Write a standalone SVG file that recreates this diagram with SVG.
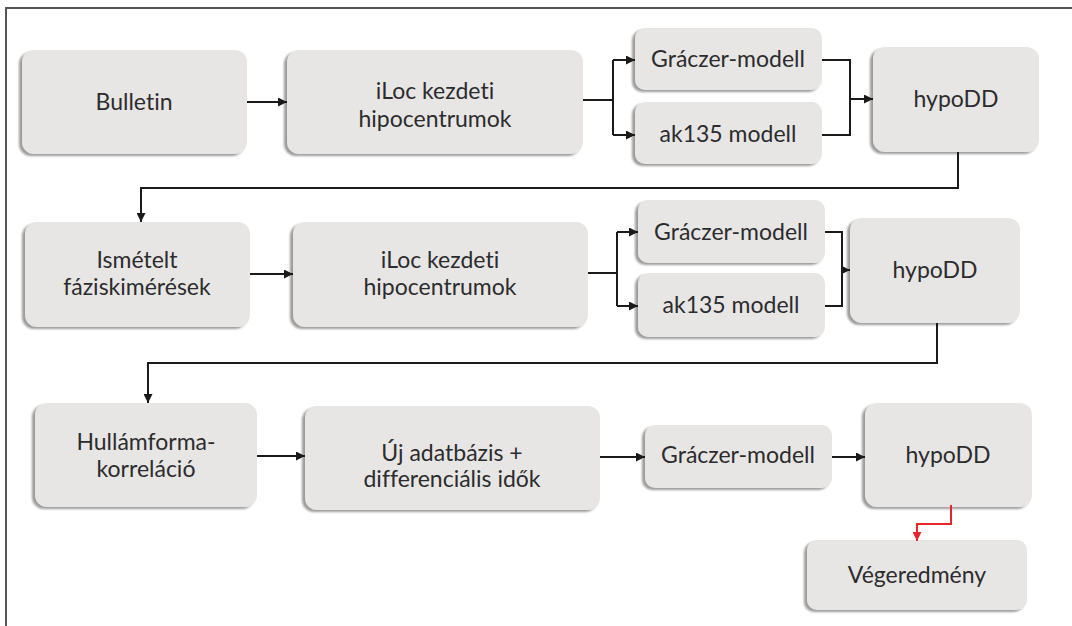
<svg xmlns="http://www.w3.org/2000/svg" width="1072" height="626" viewBox="0 0 1072 626">
<defs>
<style>
.box{fill:#e8e6e5;filter:url(#sh)}
.t{font-family:Lato,"Open Sans","Liberation Sans",sans-serif;font-size:23px;font-weight:400;fill:#2c2c2e;text-anchor:middle;font-variant-ligatures:none}
.c{fill:none;stroke:#1a1a1a;stroke-width:2}
.r{fill:none;stroke:#e8262a;stroke-width:2}
</style>
<filter id="sh" x="-10%" y="-10%" width="120%" height="120%">
<feDropShadow dx="-3" dy="2" stdDeviation="1.2" flood-color="#7a7a7a" flood-opacity="0.75"/>
</filter>
<marker id="a" viewBox="0 0 10 10" refX="10" refY="5" markerWidth="9" markerHeight="9" markerUnits="userSpaceOnUse" orient="auto">
<path d="M0,0 L10,5 L0,10 z" fill="#1a1a1a"/>
</marker>
<marker id="ar" viewBox="0 0 10 10" refX="10" refY="5" markerWidth="9" markerHeight="9" markerUnits="userSpaceOnUse" orient="auto">
<path d="M0,0 L10,5 L0,10 z" fill="#e8262a"/>
</marker>
</defs>
<rect width="1072" height="626" fill="#ffffff"/>
<path d="M6,626 V8 H1072" fill="none" stroke="#555" stroke-width="2"/>

<g id="bulletin"><rect class="box" x="22" y="50" width="225" height="104" rx="12"/><text class="t" x="134" y="110">Bulletin</text></g>
<g id="iloc1"><rect class="box" x="287" y="50" width="296" height="104" rx="12"/><text class="t" x="435" y="99">iLoc kezdeti</text><text class="t" x="435" y="127">hipocentrumok</text></g>
<g id="graczer1"><rect class="box" x="635" y="28" width="187" height="62" rx="10"/><text class="t" x="728" y="67">Gráczer-modell</text></g>
<g id="ak1"><rect class="box" x="635" y="102" width="187" height="62" rx="10"/><text class="t" x="728" y="142">ak135 modell</text></g>
<g id="hypodd1"><rect class="box" x="873" y="47" width="166" height="105" rx="12"/><text class="t" x="956" y="107">hypoDD</text></g>

<g id="ismetelt"><rect class="box" x="25" y="222" width="225" height="105" rx="12"/><text class="t" x="137" y="268">Ismételt</text><text class="t" x="137" y="295">fáziskimérések</text></g>
<g id="iloc2"><rect class="box" x="293" y="222" width="295" height="105" rx="12"/><text class="t" x="440" y="268">iLoc kezdeti</text><text class="t" x="440" y="295">hipocentrumok</text></g>
<g id="graczer2"><rect class="box" x="638" y="200" width="187" height="63" rx="10"/><text class="t" x="731" y="240">Gráczer-modell</text></g>
<g id="ak2"><rect class="box" x="638" y="273" width="187" height="64" rx="10"/><text class="t" x="731" y="313">ak135 modell</text></g>
<g id="hypodd2"><rect class="box" x="850" y="218" width="170" height="105" rx="12"/><text class="t" x="935" y="278">hypoDD</text></g>

<g id="hullam"><rect class="box" x="35" y="403" width="222" height="104" rx="12"/><text class="t" x="146" y="450">Hullámforma-</text><text class="t" x="146" y="477">korreláció</text></g>
<g id="uj"><rect class="box" x="305" y="406" width="295" height="104" rx="12"/><text class="t" x="452" y="461">Új adatbázis +</text><text class="t" x="452" y="487">differenciális idők</text></g>
<g id="graczer3"><rect class="box" x="645" y="425" width="187" height="63" rx="10"/><text class="t" x="738" y="463">Gráczer-modell</text></g>
<g id="hypodd3"><rect class="box" x="865" y="403" width="167" height="104" rx="12"/><text class="t" x="948" y="463">hypoDD</text></g>
<g id="vegeredmeny"><rect class="box" x="807" y="540" width="220" height="70" rx="10"/><text class="t" x="917" y="583">Végeredmény</text></g>

<g id="connectors">
<path class="c" d="M247,102 H287" marker-end="url(#a)"/>
<path class="c" d="M583,100 H613"/>
<path class="c" d="M613,60 V135"/>
<path class="c" d="M613,60 H635" marker-end="url(#a)"/>
<path class="c" d="M613,135 H635" marker-end="url(#a)"/>
<path class="c" d="M822,60 H850 V135 H822"/>
<path class="c" d="M850,99 H873" marker-end="url(#a)"/>
<path class="c" d="M958,152 V188 H141 V222" marker-end="url(#a)"/>

<path class="c" d="M250,274 H293" marker-end="url(#a)"/>
<path class="c" d="M588,273 H617"/>
<path class="c" d="M617,232 V306"/>
<path class="c" d="M617,232 H638" marker-end="url(#a)"/>
<path class="c" d="M617,306 H638" marker-end="url(#a)"/>
<path class="c" d="M825,232 H842 V306 H825"/>
<path class="c" d="M842,270 H850" marker-end="url(#a)"/>
<path class="c" d="M937,323 V363 H148 V403" marker-end="url(#a)"/>

<path class="c" d="M257,456 H305" marker-end="url(#a)"/>
<path class="c" d="M600,457 H645" marker-end="url(#a)"/>
<path class="c" d="M832,457 H865" marker-end="url(#a)"/>
<path class="r" d="M951,505 V524 H917 V541" marker-end="url(#ar)"/>
</g>
</svg>
